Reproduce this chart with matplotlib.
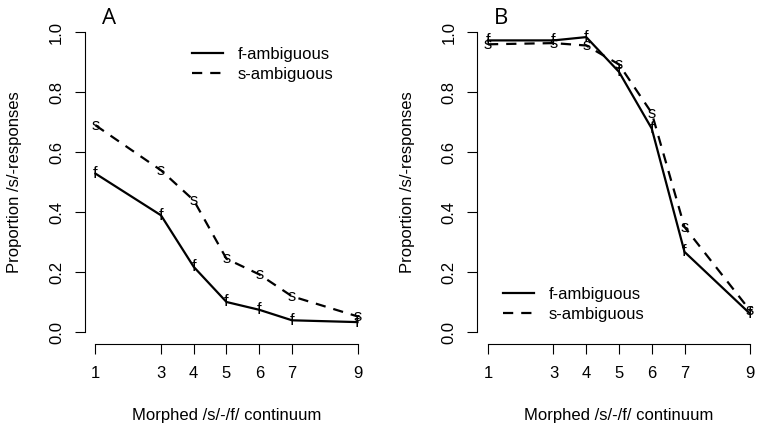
import matplotlib
matplotlib.use('Agg')
import matplotlib.pyplot as plt

plt.rcParams['font.family'] = ['Liberation Sans', 'DejaVu Sans']

# continuum steps
steps = [1, 3, 4, 5, 6, 7, 9]

# panel A
a_f = [0.528, 0.389, 0.217, 0.100, 0.074, 0.039, 0.033]
a_s = [0.689, 0.539, 0.439, 0.244, 0.192, 0.119, 0.052]

# panel B
b_f = [0.972, 0.972, 0.983, 0.867, 0.678, 0.267, 0.061]
b_s = [0.959, 0.963, 0.955, 0.892, 0.730, 0.350, 0.072]

yticks = [0.0, 0.2, 0.4, 0.6, 0.8, 1.0]
labels = ['f-ambiguous', 's-ambiguous']

W, H = 762, 432
FS = 12
fig = plt.figure(figsize=(W / 100, H / 100), dpi=100)


def panel(rect, f_vals, s_vals, letter, legend_anchor):
    ax = fig.add_axes(rect)
    ax.plot(steps, f_vals, color='black', lw=1.6, label=labels[0])
    ax.plot(steps, s_vals, color='black', lw=1.6, dashes=(4.6, 3.6), label=labels[1])
    for x, y in zip(steps, f_vals):
        ax.text(x, y, 'f', ha='center', va='center', fontsize=FS)
    for x, y in zip(steps, s_vals):
        ax.text(x, y, 's', ha='center', va='center', fontsize=FS)

    ax.set_xlim(0.68, 9.32)
    ax.set_ylim(-0.04, 1.04)
    for side in ['top', 'right']:
        ax.spines[side].set_visible(False)
    ax.spines['left'].set_bounds(0, 1)
    ax.spines['bottom'].set_bounds(1, 9)
    for side in ['left', 'bottom']:
        ax.spines[side].set_linewidth(0.8)

    ax.set_xticks(steps)
    ax.set_xticklabels([str(s) for s in steps])
    ax.set_yticks(yticks)
    ax.set_yticklabels(['%.1f' % v for v in yticks], rotation=90, va='center')
    ax.tick_params(axis='both', length=7.2, width=0.8, labelsize=FS)
    ax.tick_params(axis='x', pad=9)
    ax.tick_params(axis='y', pad=8)

    ax.set_xlabel('Morphed /s/-/f/ continuum', fontsize=FS)
    ax.xaxis.set_label_coords(0.5, -0.196)
    ax.set_ylabel('Proportion /s/-responses', fontsize=FS)
    ax.yaxis.set_label_coords(-0.222, 0.5)

    ax.legend(loc='upper left', bbox_to_anchor=legend_anchor, frameon=False,
              fontsize=FS, handlelength=1.86, handletextpad=0.9,
              labelspacing=0.26, borderpad=0, borderaxespad=0)

    x0 = rect[0] * W
    fig.text((x0 + 24) / W, 1 - 18 / H, letter, fontsize=16,
             family=['Open Sans', 'DejaVu Sans'], ha='center', va='center')
    return ax


# axes rectangles from pixel layout
panel([85 / W, 1 - 344 / H, 283 / W, 324 / H], a_f, a_s, 'A', (0.378, 0.916))
panel([477.5 / W, 1 - 344 / H, 283 / W, 324 / H], b_f, b_s, 'B', (0.09, 0.175))

fig.savefig('out.png', dpi=100)
